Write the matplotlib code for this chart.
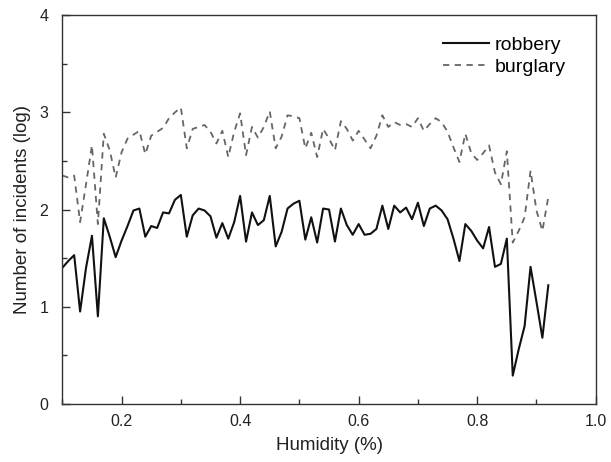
import matplotlib
matplotlib.use("Agg")
import matplotlib.pyplot as plt
from matplotlib.ticker import MultipleLocator
import numpy as np

# humidity grid, 0.10 .. 0.92 in steps of 0.01
humidity = np.round(np.arange(0.10, 0.9201, 0.01), 2)

robbery = [
    1.40, 1.47, 1.53, 0.95, 1.40, 1.73, 0.90, 1.91, 1.72, 1.51,
    1.68, 1.83, 1.99, 2.01, 1.72, 1.83, 1.81, 1.97, 1.96, 2.10,
    2.15, 1.72, 1.94, 2.01, 1.99, 1.93, 1.71, 1.86, 1.70, 1.87,
    2.14, 1.67, 1.97, 1.84, 1.89, 2.14, 1.62, 1.77, 2.01, 2.06,
    2.09, 1.69, 1.92, 1.66, 2.01, 2.00, 1.67, 2.01, 1.84, 1.74,
    1.85, 1.74, 1.75, 1.80, 2.04, 1.80, 2.04, 1.97, 2.02, 1.90,
    2.07, 1.83, 2.01, 2.04, 1.99, 1.90, 1.70, 1.47, 1.85, 1.78,
    1.68, 1.60, 1.82, 1.41, 1.44, 1.70, 0.29, 0.56, 0.80, 1.41,
    1.05, 0.68, 1.22,
]

burglary = [
    2.35, 2.33, 2.35, 1.87, 2.26, 2.66, 1.85, 2.78, 2.61, 2.33,
    2.59, 2.73, 2.77, 2.81, 2.57, 2.76, 2.80, 2.84, 2.94, 3.00,
    3.05, 2.63, 2.83, 2.85, 2.87, 2.80, 2.68, 2.81, 2.54, 2.80,
    2.99, 2.56, 2.85, 2.74, 2.85, 3.01, 2.63, 2.75, 2.97, 2.96,
    2.94, 2.63, 2.79, 2.54, 2.83, 2.73, 2.61, 2.91, 2.83, 2.71,
    2.81, 2.72, 2.63, 2.76, 2.97, 2.85, 2.90, 2.87, 2.88, 2.85,
    2.94, 2.81, 2.88, 2.94, 2.90, 2.80, 2.64, 2.49, 2.78, 2.58,
    2.51, 2.58, 2.66, 2.38, 2.26, 2.60, 1.66, 1.78, 1.92, 2.40,
    1.99, 1.78, 2.13,
]

plt.rcParams['font.family'] = ['Liberation Sans', 'DejaVu Sans']

fig = plt.figure(figsize=(6.11, 4.62), dpi=100)
ax = fig.add_axes([0.102, 0.126, 0.873, 0.841])

ax.plot(humidity, robbery, color='#111111', lw=1.5, label='robbery')
ax.plot(humidity, burglary, color='#666666', lw=1.3, dashes=(3.5, 3),
        label='burglary')

ax.set_xlim(0.1, 1.0)
ax.set_ylim(0, 4)
ax.xaxis.set_major_locator(MultipleLocator(0.2))
ax.xaxis.set_minor_locator(MultipleLocator(0.1))
ax.yaxis.set_major_locator(MultipleLocator(1))
ax.yaxis.set_minor_locator(MultipleLocator(0.5))
ax.set_xticks([0.2, 0.4, 0.6, 0.8, 1.0])
ax.set_xticklabels(['0.2', '0.4', '0.6', '0.8', '1.0'])
ax.tick_params(which='both', direction='in', colors='#333333',
               labelcolor='#222222', labelsize=11.5, width=1.0)
ax.tick_params(axis='x', which='major', length=6, pad=7)
ax.tick_params(axis='y', which='major', length=6, pad=10)
ax.tick_params(which='minor', length=3.5)
for sp in ax.spines.values():
    sp.set_color('#333333')
    sp.set_linewidth(1.0)

ax.set_xlabel('Humidity (%)', fontsize=13.5, color='#222222', labelpad=6)
ax.set_ylabel('Number of incidents (log)', fontsize=13.5, color='#222222',
              labelpad=6)

ax.legend(loc='upper right', bbox_to_anchor=(0.965, 0.975), frameon=False,
          fontsize=14, handlelength=2.4, handletextpad=0.25,
          labelspacing=0.2, borderaxespad=0.2)

fig.savefig('out.png', dpi=100)
